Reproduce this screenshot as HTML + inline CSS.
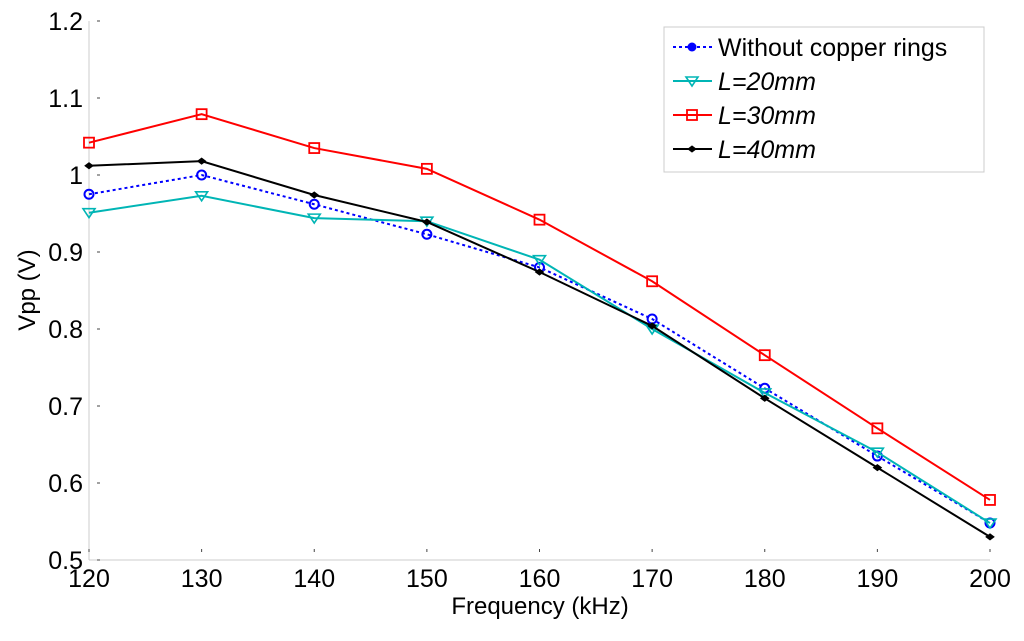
<!DOCTYPE html>
<html><head><meta charset="utf-8"><style>
body{margin:0;background:#fff}
svg{font-family:"Liberation Sans",Arial,sans-serif}
</style></head><body>
<svg id="chart" width="1024" height="636">
<g id="axes"></g>
<g id="plot"></g>
<g id="legend"></g>
</svg>
<script>
const categories=[120,130,140,150,160,170,180,190,200];
const seriesNames=["Without copper rings","L=20mm","L=30mm","L=40mm"];
const noRings=[0.975,1.0,0.962,0.923,0.880,0.813,0.723,0.635,0.548];
const l20=[0.951,0.973,0.944,0.940,0.890,0.800,0.717,0.640,0.548];
const l30=[1.042,1.079,1.035,1.008,0.942,0.862,0.766,0.671,0.578];
const l40=[1.012,1.018,0.974,0.939,0.874,0.804,0.710,0.620,0.530];
const yTicks=["0.5","0.6","0.7","0.8","0.9","1","1.1","1.2"];
const xTicks=["120","130","140","150","160","170","180","190","200"];

const NS="http://www.w3.org/2000/svg";
const X0=89,X1=990,Y0=560,Y1=21;
const xs=v=>X0+(v-120)/80*(X1-X0);
const ys=v=>Y0-(v-0.5)/0.7*(Y0-Y1);
function mk(tag,attrs,parent,text){const e=document.createElementNS(NS,tag);for(const k in attrs)e.setAttribute(k,attrs[k]);if(text!==undefined)e.textContent=text;parent.appendChild(e);return e;}
const axes=document.getElementById('axes'),plot=document.getElementById('plot'),leg=document.getElementById('legend');

let a=mk('line',{x1:X0,y1:Y1,x2:X0,y2:Y0,stroke:'#ccc','stroke-width':1},axes);

a=mk('line',{x1:X0,y1:Y0,x2:X1,y2:Y0,stroke:'#ccc','stroke-width':1},axes);

yTicks.forEach(t=>{const y=ys(+t);
 const tk=mk('line',{x1:X0+8,y1:y,x2:X0+11,y2:y,stroke:'#444'},axes);
 
 const l=mk('text',{x:X0-6,y:y+9,'text-anchor':'end','font-size':25},axes,t);
 });
xTicks.forEach(t=>{const x=xs(+t);
 const tk=mk('line',{x1:x,y1:Y0-8,x2:x,y2:Y0-11,stroke:'#444'},axes);
 
 const l=mk('text',{x:x,y:Y0+27,'text-anchor':'middle','font-size':25},axes,t);
 });
let t=mk('text',{x:540,y:614,'text-anchor':'middle','font-size':24},axes,'Frequency (kHz)');

t=mk('text',{x:0,y:0,'text-anchor':'middle','font-size':24,transform:'translate(35,290) rotate(-90)'},axes,'Vpp (V)');


function marker(kind,x,y,color,g){
 let m;
 if(kind==='circle')m=mk('circle',{cx:x,cy:y,r:4.5,fill:'none',stroke:color,'stroke-width':2},g);
 else if(kind==='tri')m=mk('polygon',{points:`${x-6},${y-4} ${x+6},${y-4} ${x},${y+5}`,fill:'none',stroke:color,'stroke-width':1.6},g);
 else if(kind==='square')m=mk('rect',{x:x-5,y:y-5,width:10,height:10,fill:'none',stroke:color,'stroke-width':1.8},g);
 else m=mk('polygon',{points:`${x-4},${y} ${x},${y-3} ${x+4},${y} ${x},${y+3}`,fill:color,stroke:color},g);
 return m;}
const defs=[[noRings,'#0000ff','circle','3,3','series-without-rings'],[l20,'#00b5b5','tri','','series-l20'],[l30,'#ff0000','square','','series-l30'],[l40,'#000','diamond','','series-l40']];
defs.forEach(([d,c,k,dash,name])=>{
 const g=mk('g',{},plot);
 
 const p=mk('polyline',{points:d.map((v,i)=>xs(categories[i])+','+ys(v)).join(' '),fill:'none',stroke:c,'stroke-width':2,'stroke-dasharray':dash},g);
 
 d.forEach((v,i)=>{const m=marker(k,xs(categories[i]),ys(v),c,g);
  });
});
const box=mk('rect',{x:664,y:27,width:320,height:145,fill:'#fff',stroke:'#ccc'},leg);

defs.forEach(([d,c,k,dash,name],i)=>{
 const y=47+i*34;
 const g=mk('g',{},leg);
 
 mk('line',{x1:673,y1:y,x2:712,y2:y,stroke:c,'stroke-width':2,'stroke-dasharray':dash},g);
 if(i===0)mk('circle',{cx:692,cy:y,r:4.5,fill:c},g);else marker(k,692,y,c,g);
 const l=mk('text',{x:718,y:y+9,'font-size':25,'font-style':i?'italic':'normal'},g,seriesNames[i]);
 
});
</script>
</body></html>
